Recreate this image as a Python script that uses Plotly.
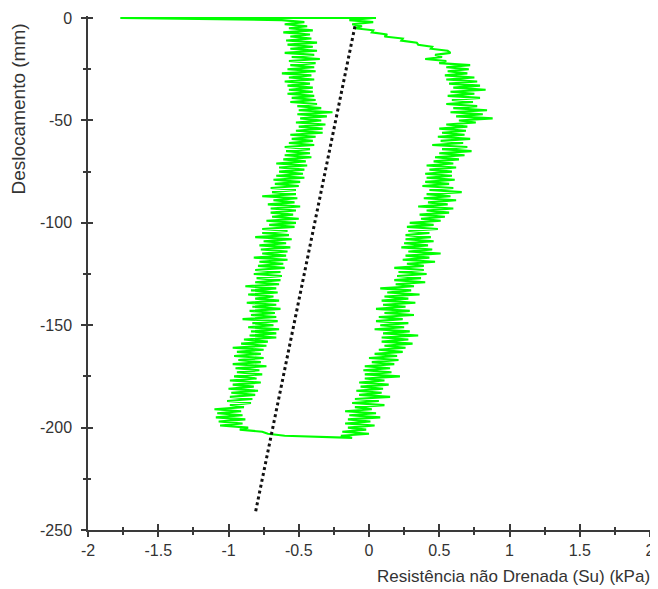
import plotly.graph_objects as go

# ---------------- data ----------------
# top horizontal spike at depth 0
top_start_x = [0.03]
top_start_y = [0.0]
top_end_x = [-1.77, 0.05]
top_end_y = [0.0, 0.0]

# initial diagonal (penetration start), depth 1..16 mm
diag_depth = list(range(-1, -17, -1))
diag_su = [-0.14, 0.03, -0.12, -0.05, -0.10, 0.03, 0.02, 0.13, 0.11, 0.24,
           0.23, 0.34, 0.35, 0.45, 0.44, 0.56]

# penetration branch (right), depth 17..205 mm
right_depth = list(range(-17, -206, -1))
right_su = [
    0.58, 0.47, 0.52, 0.40, 0.55, 0.50, 0.72, 0.55, 0.71, 0.56,
    0.70, 0.54, 0.75, 0.55, 0.77, 0.57, 0.79, 0.60, 0.83, 0.58,
    0.75, 0.56, 0.79, 0.59, 0.74, 0.55, 0.77, 0.60, 0.84, 0.58,
    0.81, 0.62, 0.88, 0.64, 0.76, 0.55, 0.70, 0.50, 0.69, 0.52,
    0.68, 0.49, 0.72, 0.51, 0.67, 0.45, 0.70, 0.52, 0.73, 0.50,
    0.68, 0.47, 0.64, 0.46, 0.60, 0.41, 0.62, 0.43, 0.59, 0.40,
    0.59, 0.41, 0.61, 0.40, 0.57, 0.38, 0.60, 0.43, 0.66, 0.41,
    0.58, 0.39, 0.62, 0.42, 0.56, 0.35, 0.60, 0.41, 0.57, 0.36,
    0.54, 0.37, 0.51, 0.29, 0.46, 0.27, 0.49, 0.28, 0.43, 0.26,
    0.44, 0.26, 0.46, 0.25, 0.42, 0.23, 0.45, 0.28, 0.51, 0.26,
    0.43, 0.24, 0.47, 0.27, 0.39, 0.18, 0.39, 0.21, 0.41, 0.20,
    0.37, 0.18, 0.40, 0.19, 0.32, 0.08, 0.30, 0.13, 0.36, 0.11,
    0.28, 0.09, 0.33, 0.10, 0.26, 0.05, 0.29, 0.11, 0.32, 0.07,
    0.24, 0.05, 0.28, 0.08, 0.25, 0.04, 0.29, 0.10, 0.35, 0.09,
    0.28, 0.09, 0.31, 0.11, 0.26, 0.07, 0.24, 0.04, 0.20, 0.00,
    0.21, 0.02, 0.18, -0.03, 0.15, -0.04, 0.16, -0.03, 0.22, -0.03,
    0.11, -0.07, 0.14, -0.06, 0.10, -0.09, 0.09, -0.07, 0.15, -0.10,
    0.07, -0.12, 0.11, -0.10, 0.02, -0.17, 0.05, -0.14, 0.08, -0.15,
    0.01, -0.17, 0.04, -0.15, -0.02, -0.19, 0.00, -0.20, -0.12,
]

# extraction branch (left), depth 204..1 mm
left_depth = list(range(-204, 0, 1))
left_su = [
    -0.60, -0.72, -0.76, -0.92, -0.86, -1.06, -0.90, -1.07, -0.88, -1.09,
    -0.90, -1.08, -0.91, -1.10, -0.89, -0.99, -0.84, -1.01, -0.83, -0.99,
    -0.81, -0.98, -0.79, -1.00, -0.82, -0.97, -0.77, -0.99, -0.80, -0.96,
    -0.76, -0.94, -0.78, -0.95, -0.73, -0.97, -0.77, -0.93, -0.75, -0.96,
    -0.77, -0.94, -0.75, -0.97, -0.73, -0.91, -0.72, -0.89, -0.66, -0.85,
    -0.66, -0.84, -0.64, -0.86, -0.68, -0.83, -0.65, -0.90, -0.66, -0.84,
    -0.67, -0.85, -0.63, -0.83, -0.66, -0.87, -0.64, -0.81, -0.68, -0.86,
    -0.65, -0.84, -0.66, -0.88, -0.64, -0.81, -0.63, -0.80, -0.62, -0.82,
    -0.63, -0.81, -0.60, -0.79, -0.61, -0.78, -0.58, -0.82, -0.59, -0.76,
    -0.58, -0.77, -0.56, -0.78, -0.59, -0.75, -0.55, -0.81, -0.57, -0.76,
    -0.58, -0.76, -0.53, -0.71, -0.52, -0.73, -0.50, -0.69, -0.54, -0.70,
    -0.52, -0.70, -0.49, -0.72, -0.53, -0.68, -0.51, -0.76, -0.52, -0.69,
    -0.52, -0.70, -0.50, -0.67, -0.49, -0.68, -0.46, -0.66, -0.47, -0.64,
    -0.46, -0.64, -0.44, -0.66, -0.45, -0.61, -0.41, -0.60, -0.42, -0.59,
    -0.42, -0.60, -0.39, -0.57, -0.40, -0.55, -0.38, -0.56, -0.33, -0.52,
    -0.33, -0.50, -0.31, -0.52, -0.34, -0.49, -0.30, -0.51, -0.26, -0.50,
    -0.34, -0.51, -0.37, -0.56, -0.38, -0.55, -0.39, -0.58, -0.40, -0.57,
    -0.40, -0.58, -0.42, -0.60, -0.39, -0.57, -0.41, -0.62, -0.38, -0.58,
    -0.39, -0.56, -0.38, -0.57, -0.35, -0.55, -0.39, -0.60, -0.37, -0.56,
    -0.40, -0.58, -0.37, -0.59, -0.41, -0.56, -0.42, -0.61, -0.40, -0.57,
    -0.44, -0.60, -0.46, -0.62,
]

# dotted trend line
trend_su = [-0.10, -0.81]
trend_depth = [-4, -242]

# axis ticks
x_ticks = [-2, -1.5, -1, -0.5, 0, 0.5, 1, 1.5, 2]
x_labels = ["-2", "-1.5", "-1", "-0.5", "0", "0.5", "1", "1.5", "2"]
y_ticks = [0, -50, -100, -150, -200, -250]
y_labels = ["0", "-50", "-100", "-150", "-200", "-250"]

# ---------------- figure ----------------
su_all = top_start_x + diag_su + right_su + left_su + top_end_x
depth_all = top_start_y + diag_depth + right_depth + left_depth + top_end_y

FONT = "Liberation Sans, Arial, sans-serif"
AX = "#3a3a3a"
TXT = "#333333"

fig = go.Figure()
fig.add_trace(go.Scatter(
    x=su_all, y=depth_all, mode="lines",
    line=dict(color="#00ff00", width=2.1),
    hoverinfo="skip", showlegend=False,
))
fig.add_trace(go.Scatter(
    x=trend_su, y=trend_depth, mode="lines",
    line=dict(color="#111111", width=3, dash="dot"),
    hoverinfo="skip", showlegend=False,
))
# helper trace for the overlay axes (inner half of crossing ticks)
fig.add_trace(go.Scatter(
    x=[0], y=[-100], xaxis="x2", yaxis="y2", mode="markers",
    marker=dict(opacity=0), hoverinfo="skip", showlegend=False,
))

common = dict(showgrid=False, zeroline=False, tickcolor=AX, tickwidth=1.5,
              automargin=False, fixedrange=True)

# page body has an 8px margin, so the figure is 8px smaller and margins shifted
fig.update_layout(
    width=650, height=581,
    margin=dict(l=80, r=8, t=8, b=59, autoexpand=False),
    paper_bgcolor="white", plot_bgcolor="white",
    font=dict(family=FONT, size=16, color=TXT),
    xaxis=dict(
        range=[-2, 2], tickvals=x_ticks, ticktext=x_labels,
        ticks="outside", ticklen=5, showline=True, linecolor=AX, linewidth=1.5,
        minor=dict(ticks="outside", ticklen=3, dtick=0.25, tick0=0,
                   tickcolor=AX, tickwidth=1.5, showgrid=False),
        tickfont=dict(size=16, color=TXT), **common,
    ),
    yaxis=dict(
        range=[-250, 1], tickvals=y_ticks, ticktext=y_labels,
        ticks="outside", ticklen=5, showline=True, linecolor=AX, linewidth=1.5,
        minor=dict(ticks="outside", ticklen=3, dtick=25, tick0=0,
                   tickcolor=AX, tickwidth=1.5, showgrid=False),
        tickfont=dict(size=16, color=TXT), ticklabelstandoff=6, **common,
    ),
    xaxis2=dict(
        range=[-2, 2], overlaying="x", anchor="y2", side="bottom",
        tickvals=x_ticks, ticks="inside", ticklen=6, showticklabels=False,
        showline=False,
        minor=dict(ticks="inside", ticklen=3, dtick=0.25, tick0=0,
                   tickcolor=AX, tickwidth=1.5, showgrid=False),
        **common,
    ),
    yaxis2=dict(
        range=[-250, 1], overlaying="y", anchor="x2", side="left",
        tickvals=y_ticks, ticks="inside", ticklen=5, showticklabels=False,
        showline=False,
        minor=dict(ticks="inside", ticklen=3, dtick=25, tick0=0,
                   tickcolor=AX, tickwidth=1.5, showgrid=False),
        **common,
    ),
    annotations=[
        dict(text="Deslocamento (mm)", textangle=-90,
             xref="paper", yref="paper", x=-0.1246, y=1.0,
             xanchor="center", yanchor="top", yshift=-5, xshift=1,
             showarrow=False,
             font=dict(family=FONT, size=19, color=TXT)),
        dict(text="Resistência não Drenada (Su) (kPa)",
             xref="paper", yref="paper", x=1.0, y=-0.0914,
             xanchor="right", yanchor="middle", xshift=2, showarrow=False,
             font=dict(family=FONT, size=17, color=TXT)),
    ],
)

fig.write_html("out.html")
